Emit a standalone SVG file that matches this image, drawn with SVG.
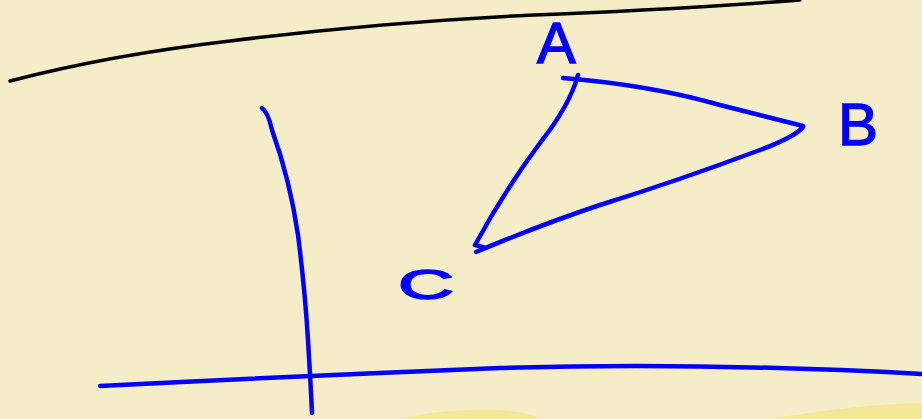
<svg xmlns="http://www.w3.org/2000/svg" width="922" height="419" viewBox="0 0 922 419">
<style>
.ink{fill:none;stroke:#0000ff;stroke-width:4.5;stroke-linecap:round;stroke-linejoin:round}
.lbl{font-family:"Liberation Sans",Arial,sans-serif;fill:#0000ff;stroke:#0000ff;stroke-width:1.5}
</style>
<rect x="0" y="0" width="922" height="419" fill="#f5ecc8"/>
<path d="M400,419 Q430,411 470,410 Q520,408 540,419 Z" fill="#f3e897"/>
<path d="M770,419 Q860,404 922,403 L922,419 Z" fill="#f3e897"/>
<path d="M10,81 Q110,55 230,41 Q400,20 560,14 Q700,8 800,0" fill="none" stroke="#000" stroke-width="3.5" stroke-linecap="round"/>
<g id="axes">
<path class="ink" d="M262,108 Q268,112 272,130 Q290,180 298,235 Q305,290 308,340 Q311,390 312,413"/>
<path class="ink" d="M100,386 Q300,376 500,368 Q700,362 922,374"/>
</g>
<g id="connectors">
<path class="ink" d="M563,78 Q650,85 720,105 Q780,120 803,126"/>
<path class="ink" d="M578,75 Q570,105 540,143 Q505,190 475,245 L486,248"/>
<path class="ink" d="M476,252 Q540,225 600,205 Q680,180 760,150 Q795,137 803,127"/>
</g>
<g id="A"><text class="lbl" x="537" y="63" font-size="58">A</text></g>
<g id="B"><text class="lbl" x="838" y="145" font-size="60">B</text></g>
<g id="C"><text class="lbl" x="398" y="299" font-size="42" transform="translate(398,299) scale(1.85,1) translate(-398,-299)">C</text></g>
</svg>
